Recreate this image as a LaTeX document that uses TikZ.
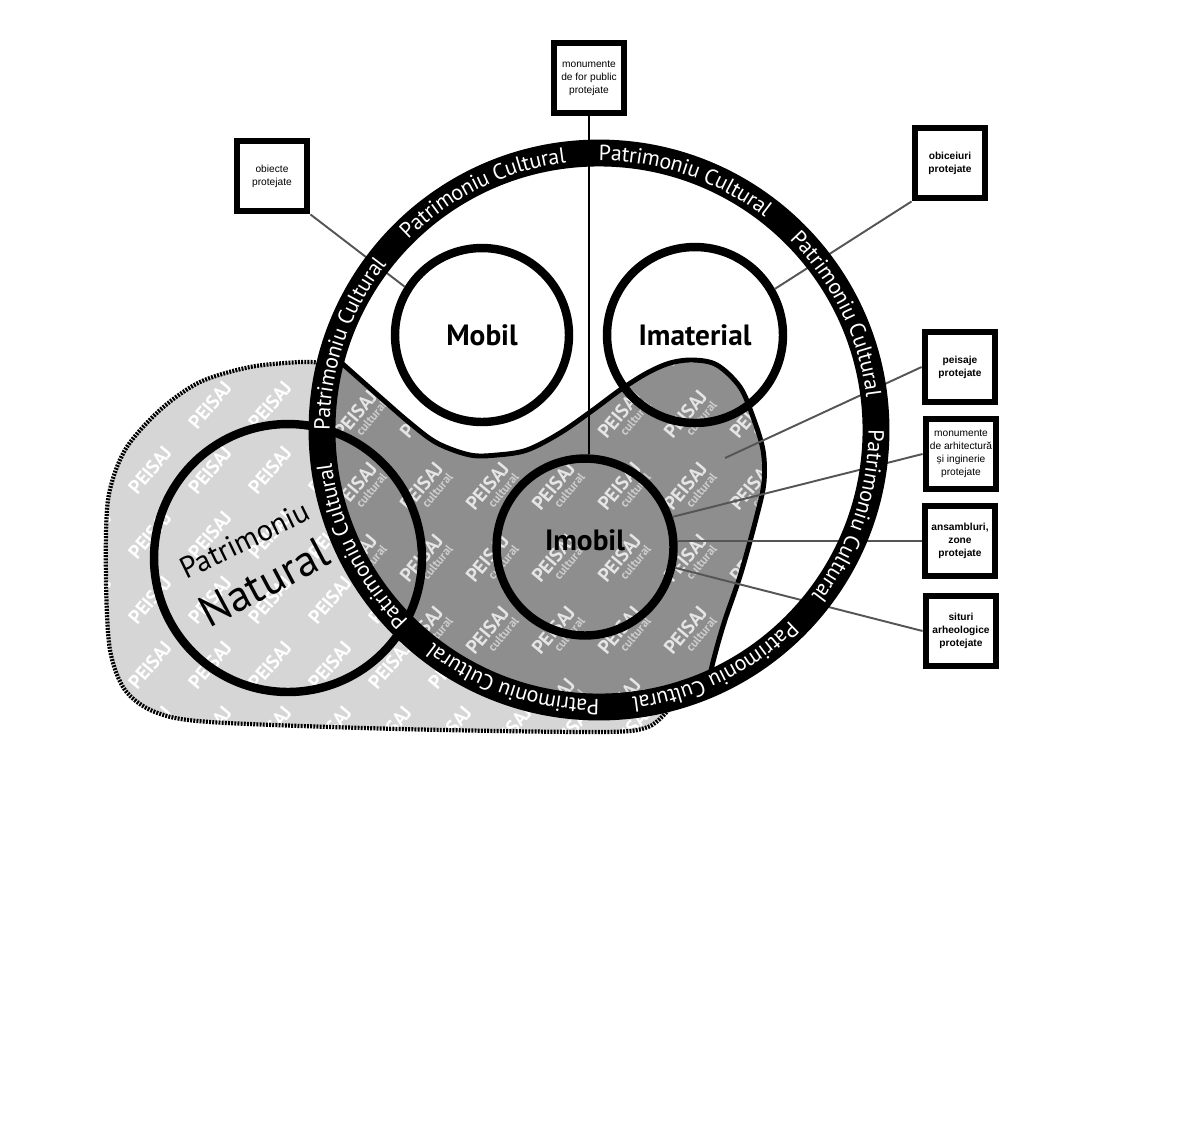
\documentclass[tikz,border=0pt]{standalone}
\usepackage{fontspec}
\usetikzlibrary{decorations.text}
\newfontfamily\ptsans{PT Sans}
\newfontfamily\arialfont{Liberation Sans}
\definecolor{peisajgri}{HTML}{8E8E8E}
\definecolor{naturalgri}{HTML}{D6D6D6}
\definecolor{liniegri}{HTML}{555555}
\newcommand{\inelfont}{\ptsans\fontsize{12.5}{12.5}\selectfont}
\newcommand{\etichetafont}{\ptsans\bfseries\fontsize{16.7}{16.7}\selectfont}
\newcommand{\conturcultural}{plot[smooth, tension=0.55] coordinates {
    (336,-358) (380,-397) (410,-423) (437,-443) (470,-455) (497,-455) (527,-450)
    (560,-433) (593,-410) (620,-390) (647,-373) (670,-363) (693,-360) (717,-365)
    (740,-387) (753,-417) (763,-450) (764,-482) (757,-515) (741,-573) (724,-623)
    (713,-662) (704,-702)}}
\newcommand{\conturnatural}{plot[smooth, tension=0.5] coordinates {
    (322,-363) (300,-362) (250,-367) (200,-382) (160,-410) (125,-450) (108,-500)
    (106,-580) (110,-650) (125,-690) (155,-712) (210,-722) (400,-729) (600,-732)
    (648,-727) (670,-708)}}
\tikzset{
    caseta/.style={draw, line width=3.9pt, fill=white, minimum size=1.4cm, inner sep=0pt,
        align=center, font=\arialfont\fontsize{5.8}{7.4}\selectfont},
    casetabold/.style={caseta, font=\arialfont\bfseries\fontsize{5.8}{7.4}\selectfont},
    cerc/.style={circle, draw, line width=4.8pt, inner sep=0pt, font=\etichetafont},
    conector/.style={draw=liniegri, line width=1.1pt},
    punctat/.style={line width=2.4pt, dash pattern=on 1.1pt off 0.7pt},
    peisajn/.style={rotate=50, text=white, inner sep=0pt,
        font=\ptsans\bfseries\fontsize{11}{11}\selectfont},
    peisajc/.style={peisajn, text=white!90!black, align=right}
}

\begin{document}
\begin{tikzpicture}[x=0.02cm, y=0.02cm]
    \useasboundingbox (0,0) rectangle (1182,-1120);
    \fill[white] (0,0) rectangle (1182,-1120);
    \coordinate (inel) at (599,-430);

    % peisaj natural
    \begin{scope}
        \clip \conturnatural -- (640,-650) -- (380,-420) -- cycle;
        \fill[naturalgri] (0,0) rectangle (1182,-1120);
        \foreach \x in {90,150,...,690}
            \foreach \y in {340,405,...,730}
                \node[peisajn] at (\x,-\y) {PEISAJ};
    \end{scope}
    \draw[punctat] \conturnatural;

    % peisaj cultural
    \begin{scope}
        \clip (inel) circle (277);
        \begin{scope}
            \clip \conturcultural -- (660,-780) -- (300,-760) -- (250,-420) -- cycle;
            \fill[peisajgri] (0,0) rectangle (1182,-1120);
            \foreach \x in {360,426,...,756}
                \foreach \y in {346,418,...,706}
                    \node[peisajc] at (\x,-\y) {PEISAJ\\[-4pt]{\fontsize{7}{7}\selectfont\color{white!80!black}cultural}};
        \end{scope}
        \draw[line width=2.8pt] \conturcultural;
    \end{scope}

    % cercuri
    \node[cerc, minimum size=3.48cm] (mobil) at (482,-335) {Mobil};
    \node[cerc, minimum size=3.52cm] (imaterial) at (695,-335) {Imaterial};
    \node[cerc, minimum size=3.54cm, label={[font=\etichetafont, yshift=4pt]center:Imobil}] (imobil) at (585,-547) {};
    \node[cerc, minimum size=5.36cm] (natural) at (288,-558) {};
    \node[rotate=26, font=\ptsans\fontsize{17}{17}\selectfont] (patrimoniu) at (245,-540) {Patrimoniu};
    \node[rotate=28, font=\ptsans\fontsize{25}{25}\selectfont] (naturaltext) at (264,-582) {Natural};

    % casete
    \node[caseta] (forpublic) at (589,-78) {monumente\\de for public\\protejate};
    \node[caseta] (obiecte) at (272,-176) {obiecte\\protejate};
    \node[casetabold] (obiceiuri) at (950,-163) {obiceiuri\\protejate};
    \node[casetabold] (peisaje) at (960,-367) {peisaje\\protejate};
    \node[caseta] (arhitectura) at (961,-454) {monumente\\de arhitectură\\și inginerie\\protejate};
    \node[casetabold] (ansambluri) at (960,-541) {ansambluri,\\zone\\protejate};
    \node[casetabold] (situri) at (961,-631) {situri\\arheologice\\protejate};

    % legaturi
    \coordinate (peisajcapat) at (725,-458);
    \draw[conector] (obiecte.south east) -- (mobil.148);
    \draw[conector] (obiceiuri.south west) -- (imaterial.30);
    \draw[line width=0.8pt] (forpublic.south) -- (forpublic.south |- imobil.north);
    \draw[conector] (peisaje.west) -- (peisajcapat);
    \draw[conector] (arhitectura.west) -- (imobil.19);
    \draw[conector] (ansambluri.west) -- (ansambluri.west -| imobil.east);
    \draw[conector] (situri.west) -- (imobil.-13);

    % patrimoniu cultural
    \draw[line width=15.3pt] (inel) circle (277);
    \foreach \m in {116,71,26,-19,-64,-109,-154,-199}
        \path[decorate, decoration={text along path, text={|\inelfont|Patrimoniu Cultural},
            text align=center, text color=white, raise=-4.3pt}]
            (inel) ++(\m+22.5:277) arc[start angle=\m+22.5, end angle=\m-22.5, radius=277];
\end{tikzpicture}
\end{document}
